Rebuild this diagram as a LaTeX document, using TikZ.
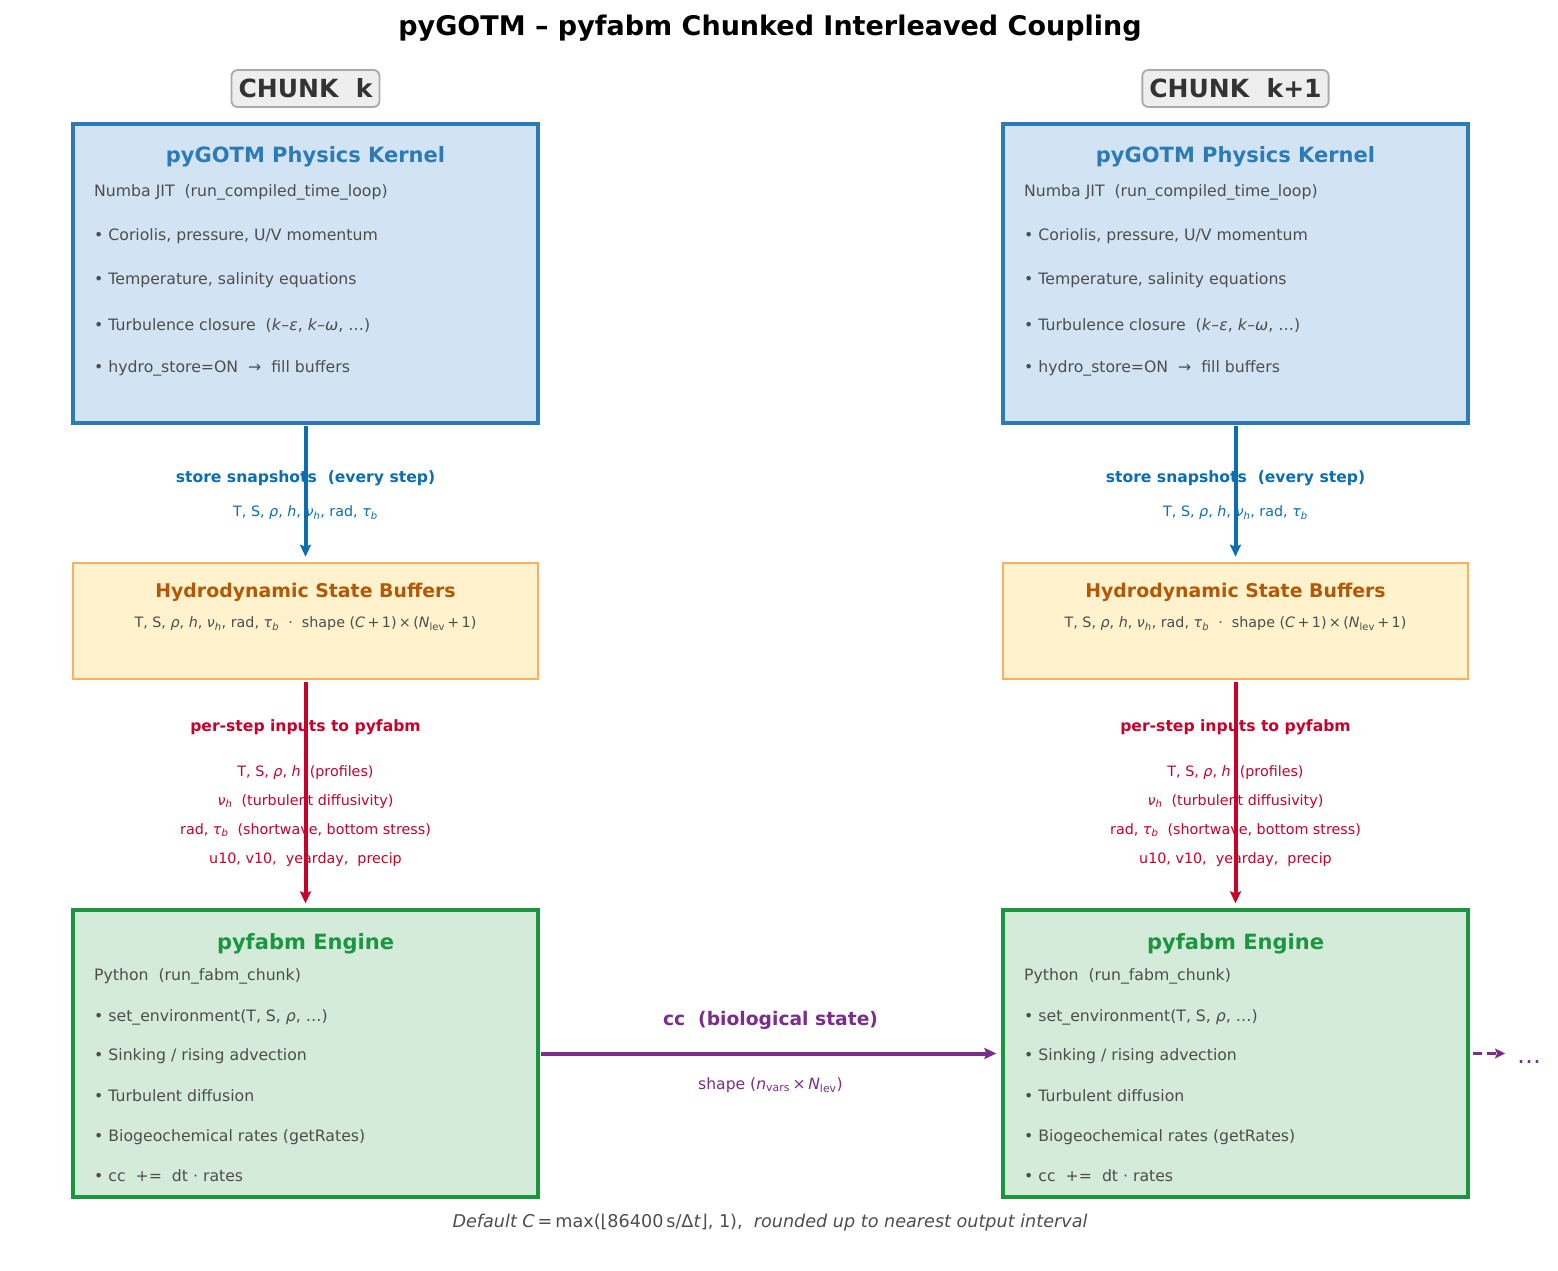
\documentclass[tikz,border=0pt]{standalone}
\usepackage{fontspec}
\setmainfont{DejaVu Sans}
\usetikzlibrary{arrows.meta}
\definecolor{txtgrey}{HTML}{4D4D4D}
\definecolor{kblue}{HTML}{2C7BB6}
\definecolor{kbluefill}{HTML}{D2E4F3}
\definecolor{ablue}{HTML}{0A6EB0}
\definecolor{borange}{HTML}{FDAE61}
\definecolor{borangefill}{HTML}{FFF2CC}
\definecolor{borangetxt}{HTML}{B35806}
\definecolor{ared}{HTML}{C8002A}
\definecolor{fgreen}{HTML}{1A9641}
\definecolor{fgreenfill}{HTML}{D4EBD9}
\definecolor{apurple}{HTML}{7B2D8B}
\definecolor{chunkfill}{HTML}{EEEEEE}
\definecolor{chunkborder}{HTML}{AAAAAA}
\definecolor{chunktxt}{HTML}{333333}
\tikzset{
  kernelbox/.style={draw=kblue, fill=kbluefill, line width=3.3pt, minimum width=465pt, minimum height=299pt, inner sep=0pt},
  bufbox/.style={draw=borange, fill=borangefill, line width=2.6pt, minimum width=465pt, minimum height=116pt, inner sep=0pt},
  engbox/.style={draw=fgreen, fill=fgreenfill, line width=3.3pt, minimum width=465pt, minimum height=287pt, inner sep=0pt},
  chunklbl/.style={draw=chunkborder, fill=chunkfill, line width=1.8pt, rounded corners=6pt, text=chunktxt, font=\bfseries\fontsize{25}{25}\selectfont, inner xsep=7pt, minimum height=37pt},
  boxtitle/.style={anchor=base, font=\bfseries\fontsize{21}{21}\selectfont},
  bodyline/.style={anchor=base west, text=txtgrey, font=\fontsize{15.7}{15.7}\selectfont, inner sep=0pt},
  arrlbl/.style={anchor=base, font=\bfseries\fontsize{15.6}{15.6}\selectfont, inner sep=0pt},
  arrsub/.style={anchor=base, font=\fontsize{14.3}{14.3}\selectfont, inner sep=0pt},
  flow/.style={line width=4pt, -{Stealth[length=12pt,width=11pt,inset=2pt]}},
}
\newcommand{\ital}[1]{\textit{#1}}
\begin{document}
\begin{tikzpicture}[x=1pt,y=-1pt]
\useasboundingbox[fill=white] (0,0) rectangle (1558,1271);
% title
\node[anchor=base, font=\bfseries\fontsize{27}{27}\selectfont] (title) at (770,36) {pyGOTM – pyfabm Chunked Interleaved Coupling};

\foreach \cx/\lbl/\sfx in {305.5/k/L,1235.5/k+1/R}{
  \node[chunklbl] (chunk\sfx) at (\cx,88.5) {CHUNK\ \ \lbl};
  % kernel box
  \node[kernelbox] (kern\sfx) at (\cx,273.5) {};
  \node[boxtitle, text=kblue] (kernT\sfx) at (\cx,163) {pyGOTM Physics Kernel};
  \node[bodyline] (kern1\sfx) at (\cx-211.5,196) {Numba JIT\ \ (run\_compiled\_time\_loop)};
  \node[bodyline] (kern2\sfx) at (\cx-211.5,240) {• Coriolis, pressure, U/V momentum};
  \node[bodyline] (kern3\sfx) at (\cx-211.5,284) {• Temperature, salinity equations};
  \node[bodyline] (kern4\sfx) at (\cx-211.5,330) {• Turbulence closure\ \ (\ital{k}–\ital{ε}, \ital{k}–\ital{ω}, …)};
  \node[bodyline] (kern5\sfx) at (\cx-211.5,372) {• hydro\_store=ON\ \ →\ \ fill buffers};
  % buffer box
  \node[bufbox] (buf\sfx) at (\cx,621) {};
  \node[anchor=base, text=borangetxt, font=\bfseries\fontsize{18.9}{18.9}\selectfont] (bufT\sfx) at (\cx,597.5) {Hydrodynamic State Buffers};
  \node[arrsub, text=txtgrey] (bufS\sfx) at (\cx,627.5) {T, S, \ital{ρ}, \ital{h}, \ital{ν}\textsubscript{\ital{h}}, rad, \ital{τ}\textsubscript{\ital{b}}\ \ ·\ \ shape (\ital{C}\,+\,1)\,×\,(\ital{N}\textsubscript{lev}\,+\,1)};
  % engine box
  \node[engbox] (eng\sfx) at (\cx,1053.5) {};
  \node[boxtitle, text=fgreen] (engT\sfx) at (\cx,949) {pyfabm Engine};
  \node[bodyline] (eng1\sfx) at (\cx-211.5,980.5) {Python\ \ (run\_fabm\_chunk)};
  \node[bodyline] (eng2\sfx) at (\cx-211.5,1021.5) {• set\_environment(T, S, \ital{ρ}, …)};
  \node[bodyline] (eng3\sfx) at (\cx-211.5,1060.5) {• Sinking / rising advection};
  \node[bodyline] (eng4\sfx) at (\cx-211.5,1101.5) {• Turbulent diffusion};
  \node[bodyline] (eng5\sfx) at (\cx-211.5,1141.5) {• Biogeochemical rates (getRates)};
  \node[bodyline] (eng6\sfx) at (\cx-211.5,1181.5) {• cc\ \ +=\ \ dt · rates};
  % labels of the store arrow
  \node[arrlbl, text=ablue] (storeL\sfx) at (\cx,482.5) {store snapshots\ \ (every step)};
  \node[arrsub, text=ablue] (storeS\sfx) at (\cx,516.5) {T, S, \ital{ρ}, \ital{h}, \ital{ν}\textsubscript{\ital{h}}, rad, \ital{τ}\textsubscript{\ital{b}}};
  % labels of the input arrow
  \node[arrlbl, text=ared] (inL\sfx) at (\cx,731.5) {per-step inputs to pyfabm};
  \node[arrsub, text=ared] (in1\sfx) at (\cx,776) {T, S, \ital{ρ}, \ital{h}\ \ (profiles)};
  \node[arrsub, text=ared] (in2\sfx) at (\cx,805) {\ital{ν}\textsubscript{\ital{h}}\ \ (turbulent diffusivity)};
  \node[arrsub, text=ared] (in3\sfx) at (\cx,834) {rad, \ital{τ}\textsubscript{\ital{b}}\ \ (shortwave, bottom stress)};
  \node[arrsub, text=ared] (in4\sfx) at (\cx,863) {u10, v10,\ \ yearday,\ \ precip};
  % arrows
  \draw[flow, ablue, shorten <=1.5pt, shorten >=5pt] (kern\sfx.south) -- (buf\sfx.north);
  \draw[flow, ared, shorten <=1.5pt, shorten >=5pt] (buf\sfx.south) -- (eng\sfx.north);
}
% coupling arrow
\node[anchor=base, text=apurple, font=\bfseries\fontsize{18.7}{18.7}\selectfont] (ccL) at (770.5,1025.5) {cc\ \ (biological state)};
\node[anchor=base, text=apurple, font=\fontsize{15.6}{15.6}\selectfont] (ccS) at (770.5,1089.5) {shape (\ital{n}\textsubscript{vars}\,×\,\ital{N}\textsubscript{lev})};
\draw[flow, apurple, shorten <=1.5pt, shorten >=5pt] (engL.east) -- (engR.west);
\coordinate (nextC) at (1505,1053.5);
\draw[apurple, line width=3pt, dash pattern=on 9pt off 5pt, -{Stealth[length=10pt,width=10pt,inset=2pt]}] ([xshift=3pt]engR.east) -- (nextC);
\node[anchor=base, text=apurple, font=\fontsize{24}{24}\selectfont] (dots) at (1529,1063) {…};
% footer
\node[anchor=base, text=txtgrey, font=\fontsize{17.6}{17.6}\selectfont] (foot) at (770,1227.5) {\ital{Default C}\,=\,max(⌊86400\,s/Δ\ital{t}⌋, 1),\ \ \ital{rounded up to nearest output interval}};
\end{tikzpicture}
\end{document}
